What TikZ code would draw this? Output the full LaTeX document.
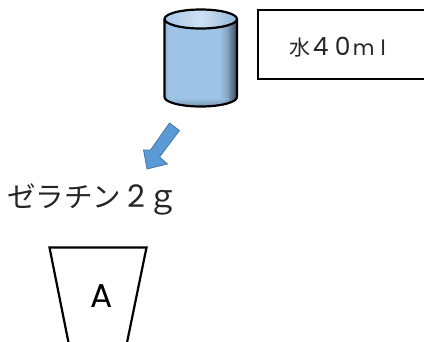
\documentclass[tikz,border=0pt]{standalone}
\usepackage{fontspec}
\newfontfamily\cjk{Noto Sans CJK JP}
\newfontfamily\wide{Poppins}
\definecolor{bodyblue}{HTML}{9DC3E6}
\definecolor{arrowfill}{HTML}{5B9BD5}
\definecolor{arrowedge}{HTML}{41719C}
\pgfdeclarehorizontalshading{cylbody}{100bp}{
 color(0bp)=(bodyblue!92!black);
 color(25bp)=(bodyblue!92!black);
 color(28bp)=(bodyblue);
 color(63bp)=(bodyblue);
 color(68bp)=(bodyblue!85!black);
 color(73bp)=(bodyblue!50!black);
 color(75bp)=(bodyblue!40!black);
 color(100bp)=(bodyblue!40!black)}
\pgfdeclarehorizontalshading{cyltop}{100bp}{
 color(0bp)=(bodyblue!90!white);
 color(25bp)=(bodyblue!90!white);
 color(50bp)=(bodyblue!50!white);
 color(75bp)=(bodyblue!95!black);
 color(100bp)=(bodyblue!95!black)}
\newcommand{\cellbox}[2]{\makebox[#1pt][c]{#2}}
\tikzset{
 outline/.style={draw=black,line width=2.2pt},
 label/.style={inner sep=0pt,text=black!85},
}
\begin{document}
\begin{tikzpicture}[x=1pt,y=-1pt]
\useasboundingbox (0,0) rectangle (424,341);
\clip (0,0) rectangle (424,341);
% cylinder
\shade[shading=cylbody] (164.5,19) -- (164.5,97) arc[start angle=180,end angle=0,x radius=36.25,y radius=9.5] -- (237,19) -- cycle;
\shade[top color=bodyblue,bottom color=bodyblue!55!black,opacity=0.5] (172,98) arc[start angle=180,end angle=0,x radius=28.75,y radius=8.2] -- cycle;
\shade[shading=cyltop] (200.75,19) ellipse[x radius=36.25,y radius=9.5];
\draw[outline,line join=round] (164.5,19) -- (164.5,97) arc[start angle=180,end angle=0,x radius=36.25,y radius=9.5] -- (237,19);
\draw[outline] (200.75,19) ellipse[x radius=36.25,y radius=9.5];
% label box
\draw[outline,line width=1.8pt] (258,10) -- (430,10) -- (430,79) -- (258,79) -- cycle;
\node[label,anchor=west] (water) at (290,47) {\cjk\fontsize{21}{21}\selectfont\cellbox{20}{水}\wide\fontsize{25}{25}\selectfont\cellbox{21}{4}\cellbox{23}{0}\fontsize{21}{21}\selectfont\cellbox{19}{m}\cellbox{20}{l}};
% arrow
\filldraw[fill=arrowfill,draw=arrowedge,line width=.7pt,line join=miter]
 (169.5,123) -- (179.5,130.5) -- (159.5,157) -- (167.5,164) -- (147,169) -- (143.5,150) -- (150.5,150) -- cycle;
% gelatin label
\node[label,anchor=west] (gelatin) at (7,199) {\cjk\fontsize{28.5}{30}\selectfont ゼラチン\hspace{2pt}\wide\fontsize{31}{30}\selectfont\cellbox{27}{2}\cjk\fontsize{31}{30}\selectfont\cellbox{26}{ｇ}};
% cup
\draw[outline,line join=miter] (69,345) -- (49.5,247.5) -- (146.5,247.5) -- (126.5,345);
\node[label,text=black] (cupa) at (101.5,296) {\wide\fontsize{33}{33}\selectfont A};
\end{tikzpicture}
\end{document}
